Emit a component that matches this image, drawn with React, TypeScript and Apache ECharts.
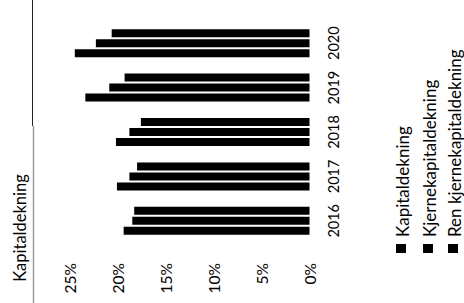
import React, { useEffect, useRef } from "react";
import * as echarts from "echarts";

const years = ["2016", "2017", "2018", "2019", "2020"];
const seriesNames = ["Kapitaldekning", "Kjernekapitaldekning", "Ren kjernekapitaldekning"];
const kapital = [19.4, 20.1, 20.2, 23.4, 24.5];
const kjerne = [18.5, 18.8, 18.8, 20.9, 22.3];
const ren = [18.3, 18.0, 17.6, 19.3, 20.65];
const valueTicks = [0, 5, 10, 15, 20, 25];
const axisTitle = "Kapitaldekning";

const FONT = "Lato";

export default function App() {
  const ref = useRef<HTMLDivElement>(null);
  useEffect(() => {
    if (!ref.current) return;
    const chart = echarts.init(ref.current, null, { renderer: "svg" });
    const values = [kapital, kjerne, ren];
    const legendX = [402, 429, 454];
    const markerX = [401, 428, 453];
    const legendGraphics: any[] = [];
    seriesNames.forEach((n, i) => {
      legendGraphics.push({
        type: "rect",
        shape: { x: markerX[i] - 5, y: 244, width: 10, height: 9 },
        style: { fill: "#000" },
      });
      legendGraphics.push({
        type: "text",
        x: legendX[i],
        y: 237,
        rotation: Math.PI / 2,
        style: {
          text: n,
          fill: "#000",
          font: `17px "${FONT}"`,
          textAlign: "left",
          textVerticalAlign: "middle",
        },
      });
    });
    // ECharts stacks horizontal bar series top-down, so reverse to put the first series at the bottom
    const order = [2, 1, 0];
    chart.setOption({
      animation: false,
      backgroundColor: "#fff",
      grid: { left: 70, right: 154.5, top: 21, bottom: 60, containLabel: false },
      xAxis: {
        type: "value",
        min: valueTicks[0],
        max: valueTicks[valueTicks.length - 1],
        interval: 5,
        inverse: true,
        position: "bottom",
        axisLine: { show: false },
        axisTick: { show: false },
        splitLine: { show: false },
        axisLabel: {
          rotate: 90,
          margin: 20,
          color: "#000",
          fontFamily: FONT,
          fontSize: 15.5,
          formatter: (v: number) => `${v}%`,
        },
      },
      yAxis: {
        type: "category",
        data: years,
        position: "right",
        axisLine: { show: false },
        axisTick: { show: false },
        splitLine: { show: false },
        axisLabel: {
          interval: 0,
          rotate: 90,
          margin: 16,
          color: "#000",
          fontFamily: FONT,
          fontSize: 14.5,
        },
      },
      series: order.map((i) => ({
        name: seriesNames[i],
        type: "bar",
        data: values[i],
        barWidth: 8,
        barGap: "25%",
        itemStyle: { color: "#000" },
      })),
      graphic: [
        {
          type: "line",
          shape: { x1: 32.5, y1: 0, x2: 32.5, y2: 126 },
          style: { stroke: "#222", lineWidth: 1 },
        },
        {
          type: "line",
          shape: { x1: 33.5, y1: 126, x2: 33.5, y2: 303 },
          style: { stroke: "#999", lineWidth: 1.5 },
        },
        {
          type: "text",
          x: 20,
          y: 228,
          rotation: Math.PI / 2,
          style: {
            text: axisTitle,
            fill: "#000",
            font: `16.5px "${FONT}"`,
            textAlign: "center",
            textVerticalAlign: "middle",
          },
        },
        ...legendGraphics,
      ],
    });
    return () => chart.dispose();
  }, []);
  return (
    <div
      ref={ref}
      style={{ position: "absolute", left: 0, top: 0, width: 464, height: 303 }}
    />
  );
}
